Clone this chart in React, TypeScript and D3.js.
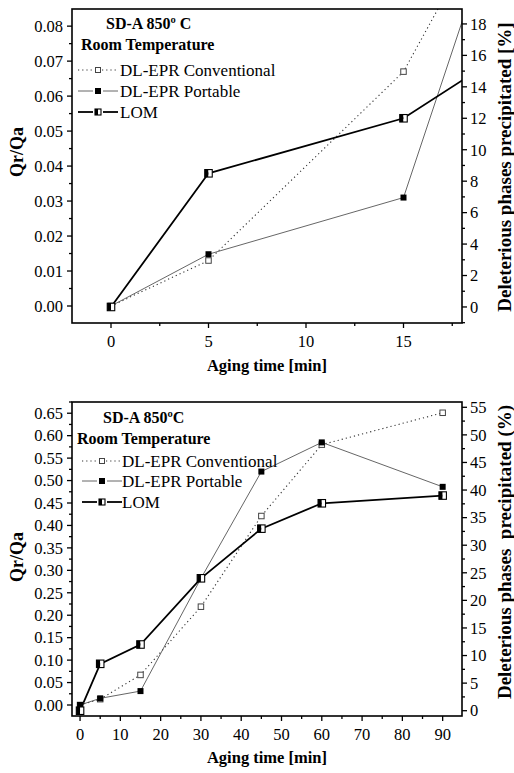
import React from 'react';
import * as d3 from 'd3';

// ---------- data ----------
const times = [0, 5, 15, 30, 45, 60, 90];
const conventional = [0, 0.013, 0.067, 0.219, 0.421, 0.58, 0.651];
const portable = [0, 0.0148, 0.031, 0.282, 0.52, 0.585, 0.486];
const lom = [0, 8.5, 12, 24, 33, 37.6, 39];

const seriesNames = ['DL-EPR Conventional', 'DL-EPR Portable', 'LOM'];

const topXTicks = [0, 5, 10, 15];
const topLeftTicks = [0, 0.01, 0.02, 0.03, 0.04, 0.05, 0.06, 0.07, 0.08];
const topRightTicks = [0, 2, 4, 6, 8, 10, 12, 14, 16, 18];
const botXTicks = [0, 10, 20, 30, 40, 50, 60, 70, 80, 90];
const botLeftTicks = [0, 0.05, 0.1, 0.15, 0.2, 0.25, 0.3, 0.35, 0.4, 0.45, 0.5, 0.55, 0.6, 0.65];
const botRightTicks = [0, 5, 10, 15, 20, 25, 30, 35, 40, 45, 50, 55];

const topTitle = ['SD-A 850º C', 'Room Temperature'];
const botTitle = ['SD-A 850ºC', 'Room Temperature'];
const xLabel = 'Aging time [min]';
const leftLabel = 'Qr/Qa';
const topRightLabel = 'Deleterious phases precipitated [%]';
const botRightLabel = 'Deleterious phases  precipitated (%)';

const FONT = 'Liberation Serif';

function minors(major: number[], domain: number[]) {
  const step = major[1] - major[0];
  const out: number[] = [];
  for (let v = major[0] - step / 2; v <= domain[1] + 1e-9; v += step) {
    if (v >= domain[0] - 1e-9) out.push(v);
  }
  return out;
}

type Cfg = {
  id: string;
  left: number; right: number; top: number; bottom: number;
  xDomain: number[]; lDomain: number[]; rDomain: number[];
  xTicks: number[]; lTicks: number[]; rTicks: number[];
  title: string[];
  titleX: number[]; titleY: number[];
  legendX: number; legendTextX: number; legendY: number[];
  rightLabel: string; rightLabelY: number; leftLabelY: number;
  xLabelY: number;
  xTickY: number;
};

function HalfSquare({ cx, cy, s }: { cx: number; cy: number; s: number }) {
  return (
    <g>
      <rect x={cx - s / 2} y={cy - s / 2} width={s / 2} height={s} fill="#000" />
      <rect x={cx} y={cy - s / 2} width={s / 2} height={s} fill="#fff" />
      <rect x={cx - s / 2} y={cy - s / 2} width={s} height={s} fill="none" stroke="#000" strokeWidth={1.1} />
    </g>
  );
}
function OpenSquare({ cx, cy, s }: { cx: number; cy: number; s: number }) {
  return <rect x={cx - s / 2} y={cy - s / 2} width={s} height={s} fill="#fff" stroke="#444" strokeWidth={1} />;
}
function FilledSquare({ cx, cy, s }: { cx: number; cy: number; s: number }) {
  return <rect x={cx - s / 2} y={cy - s / 2} width={s} height={s} fill="#000" />;
}

const convStyle = { stroke: '#333', strokeWidth: 1.1, strokeDasharray: '1.2,3' };
const portStyle = { stroke: '#555', strokeWidth: 0.9 };
const lomStyle = { stroke: '#000', strokeWidth: 1.8 };

function Panel({ cfg }: { cfg: Cfg }) {
  const x = d3.scaleLinear().domain(cfg.xDomain).range([cfg.left, cfg.right]);
  const yL = d3.scaleLinear().domain(cfg.lDomain).range([cfg.bottom, cfg.top]);
  const yR = d3.scaleLinear().domain(cfg.rDomain).range([cfg.bottom, cfg.top]);
  const lineL = d3.line<number>().x((_, i) => x(times[i])).y((d) => yL(d));
  const lineR = d3.line<number>().x((_, i) => x(times[i])).y((d) => yR(d));
  const clipId = 'clip-' + cfg.id;
  const tickW = 1.3;
  const lMin = minors(cfg.lTicks, cfg.lDomain);
  const rMin = minors(cfg.rTicks, cfg.rDomain);
  const xMin = minors(cfg.xTicks, cfg.xDomain);
  const fmt = d3.format('.2f');
  const [ly0, ly1, ly2] = cfg.legendY;
  const lx = cfg.legendX;
  const lxm = lx + 20;
  return (
    <g>
      <defs>
        <clipPath id={clipId}>
          <rect x={cfg.left} y={cfg.top} width={cfg.right - cfg.left} height={cfg.bottom - cfg.top} />
        </clipPath>
      </defs>
      <g clipPath={`url(#${clipId})`}>
        <path d={lineL(conventional) || ''} fill="none" {...convStyle} />
        <path d={lineL(portable) || ''} fill="none" {...portStyle} />
        <path d={lineR(lom) || ''} fill="none" {...lomStyle} />
        {conventional.map((v, i) => (
          <OpenSquare key={'c' + i} cx={x(times[i])} cy={yL(v)} s={5.5} />
        ))}
        {portable.map((v, i) => (
          <FilledSquare key={'p' + i} cx={x(times[i])} cy={yL(v)} s={6} />
        ))}
        {lom.map((v, i) => (
          <HalfSquare key={'l' + i} cx={x(times[i])} cy={yR(v)} s={7.5} />
        ))}
      </g>
      <rect x={cfg.left} y={cfg.top} width={cfg.right - cfg.left} height={cfg.bottom - cfg.top} fill="none" stroke="#000" strokeWidth={1.6} />
      {cfg.lTicks.map((t) => (
        <g key={'lt' + t}>
          <line x1={cfg.left - 5} x2={cfg.left} y1={yL(t)} y2={yL(t)} stroke="#000" strokeWidth={tickW} />
          <text x={cfg.left - 9} y={yL(t)} dy="0.35em" textAnchor="end" fontFamily={FONT} fontSize={16.5}>
            {fmt(t)}
          </text>
        </g>
      ))}
      {lMin.map((t) => (
        <line key={'lm' + t} x1={cfg.left - 3} x2={cfg.left} y1={yL(t)} y2={yL(t)} stroke="#000" strokeWidth={tickW} />
      ))}
      {cfg.rTicks.map((t) => (
        <g key={'rt' + t}>
          <line x1={cfg.right} x2={cfg.right + 5} y1={yR(t)} y2={yR(t)} stroke="#000" strokeWidth={tickW} />
          <text x={cfg.right + 8} y={yR(t)} dy="0.35em" textAnchor="start" fontFamily={FONT} fontSize={16.5}>
            {t}
          </text>
        </g>
      ))}
      {rMin.map((t) => (
        <line key={'rm' + t} x1={cfg.right} x2={cfg.right + 3} y1={yR(t)} y2={yR(t)} stroke="#000" strokeWidth={tickW} />
      ))}
      {cfg.xTicks.map((t) => (
        <g key={'xt' + t}>
          <line x1={x(t)} x2={x(t)} y1={cfg.bottom} y2={cfg.bottom + 5} stroke="#000" strokeWidth={tickW} />
          <text x={x(t)} y={cfg.xTickY} textAnchor="middle" fontFamily={FONT} fontSize={16.5}>
            {t}
          </text>
        </g>
      ))}
      {xMin.map((t) => (
        <line key={'xm' + t} x1={x(t)} x2={x(t)} y1={cfg.bottom} y2={cfg.bottom + 3} stroke="#000" strokeWidth={tickW} />
      ))}
      {cfg.title.map((s, i) => (
        <text key={'ti' + i} x={cfg.titleX[i]} y={cfg.titleY[i]} fontFamily={FONT} fontWeight="bold" fontSize={16}>
          {s}
        </text>
      ))}
      <g>
        <line x1={lx} x2={lxm - 4} y1={ly0} y2={ly0} {...convStyle} />
        <line x1={lxm + 4} x2={lx + 38} y1={ly0} y2={ly0} {...convStyle} />
        <OpenSquare cx={lxm} cy={ly0} s={5} />
        <text x={cfg.legendTextX} y={ly0} dy="0.35em" fontFamily={FONT} fontSize={17}>{seriesNames[0]}</text>
        <line x1={lx} x2={lxm - 5} y1={ly1} y2={ly1} {...portStyle} />
        <line x1={lxm + 5} x2={lx + 40} y1={ly1} y2={ly1} {...portStyle} />
        <FilledSquare cx={lxm} cy={ly1} s={6} />
        <text x={cfg.legendTextX} y={ly1} dy="0.35em" fontFamily={FONT} fontSize={17}>{seriesNames[1]}</text>
        <line x1={lx} x2={lxm - 5} y1={ly2} y2={ly2} {...lomStyle} />
        <line x1={lxm + 5} x2={lx + 40} y1={ly2} y2={ly2} {...lomStyle} />
        <HalfSquare cx={lxm} cy={ly2} s={6} />
        <text x={cfg.legendTextX} y={ly2} dy="0.35em" fontFamily={FONT} fontSize={17}>{seriesNames[2]}</text>
      </g>
      <text x={(cfg.left + cfg.right) / 2} y={cfg.xLabelY} textAnchor="middle" fontFamily={FONT} fontWeight="bold" fontSize={16.5}>
        {xLabel}
      </text>
      <text transform={`translate(23,${cfg.leftLabelY}) rotate(-90)`} textAnchor="middle" fontFamily={FONT} fontWeight="bold" fontSize={18}>
        {leftLabel}
      </text>
      <text transform={`translate(510.5,${cfg.rightLabelY}) rotate(-90)`} textAnchor="middle" fontFamily={FONT} style={{ whiteSpace: 'pre' }} fontWeight="bold" fontSize={19}>
        {cfg.rightLabel}
      </text>
    </g>
  );
}

const topCfg: Cfg = {
  id: 'top',
  left: 72, right: 462, top: 9, bottom: 323,
  xDomain: [-2, 18], lDomain: [-0.00486, 0.0849], rDomain: [-1.02, 18.95],
  xTicks: topXTicks, lTicks: topLeftTicks, rTicks: topRightTicks,
  title: topTitle, titleX: [106, 81], titleY: [28.5, 49.5],
  legendX: 78, legendTextX: 120, legendY: [70, 91, 112],
  rightLabel: topRightLabel, rightLabelY: 167, leftLabelY: 152,
  xLabelY: 371, xTickY: 347,
};

const botCfg: Cfg = {
  id: 'bot',
  left: 72, right: 462, top: 402, bottom: 716,
  xDomain: [-2, 94.8], lDomain: [-0.0245, 0.675], rDomain: [-0.96, 55.96],
  xTicks: botXTicks, lTicks: botLeftTicks, rTicks: botRightTicks,
  title: botTitle, titleX: [103, 77], titleY: [422.5, 443.5],
  legendX: 82, legendTextX: 122, legendY: [461, 481, 502],
  rightLabel: botRightLabel, rightLabelY: 552, leftLabelY: 557,
  xLabelY: 763, xTickY: 740,
};

export default function App() {
  return (
    <svg width={514} height={773} style={{ position: 'absolute', left: 0, top: 0, background: '#fff' }}>
      <rect x={0} y={0} width={514} height={773} fill="#fff" />
      <Panel cfg={topCfg} />
      <Panel cfg={botCfg} />
    </svg>
  );
}
